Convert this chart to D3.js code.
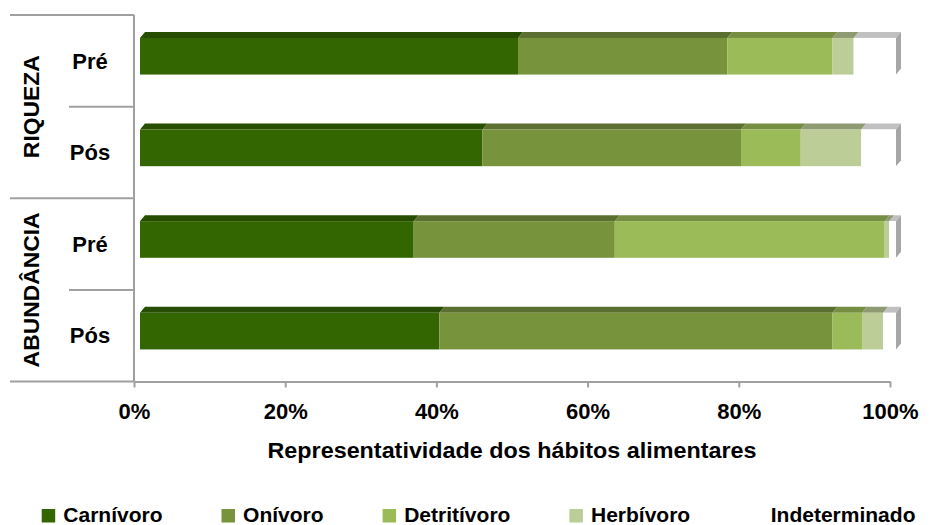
<!DOCTYPE html>
<html>
<head>
<meta charset="utf-8">
<script src="https://cdn.jsdelivr.net/npm/d3@7"></script>
<style>
  html, body { margin: 0; padding: 0; background: #fff; }
  svg { display: block; }
  text { font-family: "Liberation Sans", Arial, sans-serif; font-weight: bold; fill: #000; }
</style>
</head>
<body>
<svg id="chart" width="930" height="525"></svg>
<script>
// ---- Data ----
const groups = ["RIQUEZA", "ABUNDÂNCIA"];
const periods = ["Pré", "Pós"];
const habits = ["Carnívoro", "Onívoro", "Detritívoro", "Herbívoro", "Indeterminado"];
// values (%) per row: RIQUEZA Pré, RIQUEZA Pós, ABUNDÂNCIA Pré, ABUNDÂNCIA Pós
const carnivoro     = [50.0, 45.3, 36.2, 39.6];
const onivoro       = [27.7, 34.2, 26.6, 52.0];
const detritivoro   = [13.9,  7.9, 35.7,  3.9];
const herbivoro     = [ 2.8,  8.0,  0.6,  2.8];
const indeterminado = [ 5.6,  4.6,  0.9,  1.7];
const tickValues = [0, 20, 40, 60, 80, 100];
const axisTitle = "Representatividade dos hábitos alimentares";

// ---- Styles ----
const frontColors = ["#336600", "#77933c", "#9bbb59", "#bccd97", "#ffffff"];
const topColors   = ["#264d00", "#5b7030", "#768e42", "#8e9a72", "#c0c0c0"];
const sideColor = "#a6a6a6";
const lineColor = "#a0a0a0";

const series = [carnivoro, onivoro, detritivoro, herbivoro, indeterminado];
const rows = [];
groups.forEach((g, gi) => periods.forEach((p, pi) => rows.push({ key: g + "|" + p, group: g, period: p, idx: gi * periods.length + pi })));
rows.forEach(r => { r.values = series.map(s => s[r.idx]); });

const svg = d3.select("#chart");

const x = d3.scaleLinear().domain([0, 100]).range([134, 890]);
const y = d3.scaleBand().domain(rows.map(r => r.key)).range([15, 381.5]).padding(0);
const step = y.step();

const depthX = 5, depthY = 6, shiftX = 6;
const barOff = step * 0.25, barH = step * 0.4;

// ---- Bars ----
const barG = svg.append("g");
rows.forEach(r => {
  let cum = 0;
  const yf = y(r.key) + barOff;
  const segs = r.values.map((v, i) => { const s = { i, x0: cum, x1: cum + v }; cum += v; return s; });
  const g = barG.append("g");
  g.selectAll("polygon.top").data(segs).join("polygon")
    .attr("class", "top")
    .attr("points", d => {
      const X0 = x(d.x0) + shiftX, X1 = x(d.x1) + shiftX;
      return [[X0, yf], [X1, yf], [X1 + depthX, yf - depthY], [X0 + depthX, yf - depthY]].join(" ");
    })
    .attr("fill", d => topColors[d.i]);
  g.selectAll("rect.front").data(segs).join("rect")
    .attr("class", "front")
    .attr("x", d => x(d.x0) + shiftX)
    .attr("y", yf)
    .attr("width", d => Math.max(0, x(d.x1) - x(d.x0)))
    .attr("height", barH)
    .attr("fill", d => frontColors[d.i]);
  const last = segs[segs.length - 1];
  const XR = x(last.x1) + shiftX;
  g.append("polygon")
    .attr("points", [[XR, yf], [XR + depthX, yf - depthY], [XR + depthX, yf - depthY + barH], [XR, yf + barH]].join(" "))
    .attr("fill", sideColor);
});

// ---- Category frame on the left ----
const frame = svg.append("g").attr("stroke", lineColor).attr("stroke-width", 2).attr("fill", "none");
const bottomY = y.range()[1];
rows.forEach((r, i) => {
  const isGroupStart = i % periods.length === 0;
  frame.append("line")
    .attr("x1", isGroupStart ? 10 : 69).attr("x2", x(0))
    .attr("y1", y(r.key)).attr("y2", y(r.key));
});
frame.append("line").attr("x1", 10).attr("x2", x(0)).attr("y1", bottomY).attr("y2", bottomY);
frame.append("line").attr("x1", x(0)).attr("x2", x(0)).attr("y1", y.range()[0]).attr("y2", bottomY);

// period labels
svg.append("g").selectAll("text").data(rows).join("text")
  .attr("x", 90)
  .attr("y", r => y(r.key) + step / 2)
  .attr("dy", "0.35em")
  .attr("text-anchor", "middle")
  .style("font-size", "22px")
  .text(r => r.period);

// group labels
const groupLen = [103, 155];
svg.append("g").selectAll("text").data(groups).join("text")
  .attr("transform", (g, gi) => {
    const yc = y(rows[gi * periods.length].key) + step * periods.length / 2;
    return `translate(31,${yc}) rotate(-90)`;
  })
  .attr("dy", "0.35em")
  .attr("text-anchor", "middle")
  .attr("textLength", (g, gi) => groupLen[gi])
  .attr("lengthAdjust", "spacingAndGlyphs")
  .style("font-size", "22px")
  .text(g => g);

// ---- X axis ----
const axis = d3.axisBottom(x).tickValues(tickValues).tickFormat(d => d + "%").tickSizeInner(6).tickSizeOuter(0).tickPadding(16);
const ax = svg.append("g").attr("transform", `translate(0,${bottomY})`).call(axis);
ax.select(".domain").attr("stroke", lineColor).attr("stroke-width", 2);
ax.selectAll(".tick line").attr("stroke", lineColor).attr("stroke-width", 2);
ax.selectAll(".tick text").style("font-size", "22px").style("font-family", "\"Liberation Sans\", Arial, sans-serif").style("font-weight", "bold").attr("fill", "#000");

svg.append("text")
  .attr("x", 512).attr("y", 458)
  .attr("text-anchor", "middle")
  .attr("textLength", 489)
  .attr("lengthAdjust", "spacingAndGlyphs")
  .style("font-size", "22px")
  .text(axisTitle);

// ---- Legend ----
const legend = svg.append("g").attr("transform", "translate(41.7,0)");
let lx = 0;
habits.forEach((h, i) => {
  const item = legend.append("g").attr("transform", `translate(${lx},0)`);
  item.append("rect").attr("x", 0).attr("y", 509).attr("width", 13.5).attr("height", 13.5).attr("fill", frontColors[i]);
  const t = item.append("text").attr("x", 21.6).attr("y", 522).style("font-size", "21px").text(h);
  lx += 21.6 + t.node().getComputedTextLength() + 59;
});
</script>
</body>
</html>
